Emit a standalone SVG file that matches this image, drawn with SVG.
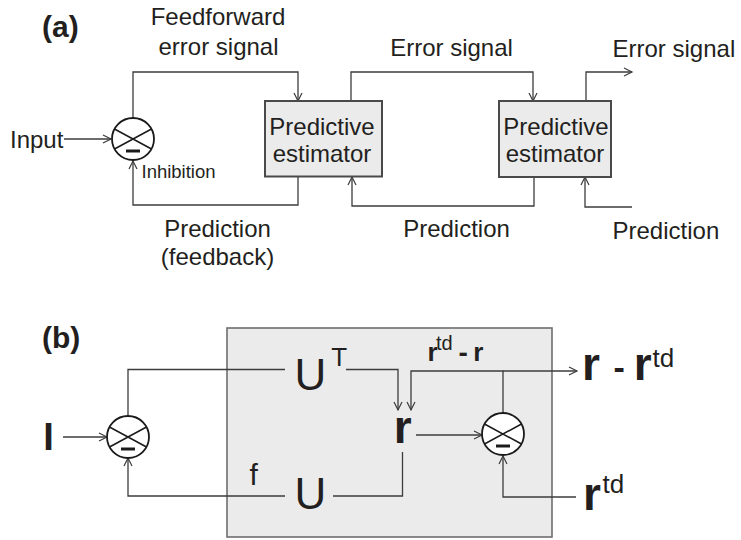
<svg xmlns="http://www.w3.org/2000/svg" xmlns:xlink="http://www.w3.org/1999/xlink" width="741" height="540" viewBox="0 0 741 540">
  <style>
    .t { font-family: "Liberation Sans", Arial, Helvetica, sans-serif; fill: #231f20; }
    .b { font-weight: bold; }
    .mid { text-anchor: middle; }
    .wire { fill: none; stroke: #3c3c3c; stroke-width: 1.3; }
    .arr { marker-end: url(#head); }
    .box { fill: #ebebeb; stroke: #4a4a4a; stroke-width: 2; }
    .frame { fill: #ebebeb; stroke: #6e6e6e; stroke-width: 1.6; }
  </style>
  <defs>
    <marker id="head" markerUnits="userSpaceOnUse" markerWidth="12" markerHeight="12" refX="9" refY="5" orient="auto" overflow="visible">
      <path d="M1,1 L9,5 L1,9" fill="none" stroke="#3c3c3c" stroke-width="1.2"/>
    </marker>
    <!-- summing junction: circle with cross and a minus bar in the lower sector -->
    <g id="sum">
      <circle r="21" fill="#fff" stroke="#1a1a1a" stroke-width="1.8"/>
      <path d="M-18.5,-10 L18.5,10 M-18.5,10 L18.5,-10" stroke="#1a1a1a" stroke-width="1.5"/>
      <path d="M-7,12 H7" stroke="#1a1a1a" stroke-width="3"/>
    </g>
  </defs>

  <rect width="741" height="540" fill="#fff"/>

  <!-- panel (a) -->
  <text class="t b" x="42" y="37" font-size="30">(a)</text>

  <g id="connectors-a">
    <path class="wire arr" d="M64,139 H111"/>
    <path class="wire arr" d="M133,118 V72 H298 V101"/>
    <path class="wire arr" d="M298,176 V205 H133 V161"/>
    <path class="wire arr" d="M351,101 V72 H533 V101"/>
    <path class="wire arr" d="M586,101 V72 H632"/>
    <path class="wire arr" d="M534,177 V206 H352 V177"/>
    <path class="wire arr" d="M632,207 H585 V177"/>
  </g>

  <g id="input-a">
    <text class="t" x="10" y="148" font-size="24">Input</text>
  </g>
  <g id="sum-a">
    <use xlink:href="#sum" x="133" y="139"/>
    <text class="t" x="141.5" y="178" font-size="18.5">Inhibition</text>
  </g>
  <g id="estimator-1">
    <rect class="box" x="265" y="101" width="117" height="75.5"/>
    <text class="t mid" x="322" y="135" font-size="24">Predictive</text>
    <text class="t mid" x="322" y="161.5" font-size="24">estimator</text>
  </g>
  <g id="estimator-2">
    <rect class="box" x="499" y="101" width="112" height="76"/>
    <text class="t mid" x="556" y="135" font-size="24">Predictive</text>
    <text class="t mid" x="555" y="161.5" font-size="24">estimator</text>
  </g>

  <g id="labels-a">
    <text class="t mid" x="218" y="25" font-size="24">Feedforward</text>
    <text class="t mid" x="218.5" y="55" font-size="24">error signal</text>
    <text class="t mid" x="451.5" y="55.5" font-size="24">Error signal</text>
    <text class="t" x="612.5" y="57" font-size="24">Error signal</text>
    <text class="t mid" x="217.5" y="236.5" font-size="24">Prediction</text>
    <text class="t mid" x="217.5" y="265" font-size="24">(feedback)</text>
    <text class="t mid" x="456.5" y="237" font-size="24">Prediction</text>
    <text class="t" x="612.5" y="239" font-size="24">Prediction</text>
  </g>

  <!-- panel (b) -->
  <text class="t b" x="42" y="348" font-size="30">(b)</text>

  <g id="estimator-b">
    <rect class="frame" x="227" y="328" width="325" height="209"/>
  </g>

  <g id="connectors-b">
    <path class="wire arr" d="M63,437 H107"/>
    <path class="wire" d="M128,416 V369.5 H285"/>
    <path class="wire arr" d="M346,369.5 H398 V410"/>
    <path class="wire arr" d="M503,413 V371 H411 V410"/>
    <path class="wire arr" d="M503,371 H577"/>
    <path class="wire arr" d="M416,435 H482"/>
    <path class="wire" d="M402.5,452 V496 H333"/>
    <path class="wire arr" d="M285,496 H128 V458"/>
    <path class="wire arr" d="M576,497 H503 V456"/>
  </g>

  <g id="input-b">
    <text class="t b" x="43.3" y="450" font-size="38">I</text>
  </g>
  <g id="sum-b1">
    <use xlink:href="#sum" x="128" y="437"/>
  </g>
  <g id="ut">
    <text class="t mid" x="310.3" y="389.5" font-size="44">U</text>
    <text class="t mid" x="339.2" y="366" font-size="26">T</text>
  </g>
  <g id="u">
    <text class="t mid" x="310.3" y="509" font-size="44">U</text>
    <text class="t" x="249.5" y="485" font-size="30">f</text>
  </g>
  <g id="r">
    <text class="t b" x="393.7" y="443.3" font-size="46">r</text>
  </g>
  <g id="sum-b2">
    <use xlink:href="#sum" x="503" y="434"/>
  </g>
  <g id="labels-b">
    <text class="t b" x="427.6" y="360.7" font-size="26">r</text>
    <text class="t" x="436" y="350" font-size="20">td</text>
    <text class="t b" x="458.5" y="362" font-size="28">-</text>
    <text class="t b" x="473.3" y="360.7" font-size="26">r</text>

    <text class="t b" x="582" y="380" font-size="46">r</text>
    <text class="t b" x="613.6" y="378.5" font-size="34">-</text>
    <text class="t b" x="633.7" y="380" font-size="46">r</text>
    <text class="t" x="652.5" y="367.3" font-size="26">td</text>

    <text class="t b" x="583" y="510" font-size="46">r</text>
    <text class="t" x="602.5" y="493.3" font-size="26">td</text>
  </g>
</svg>
